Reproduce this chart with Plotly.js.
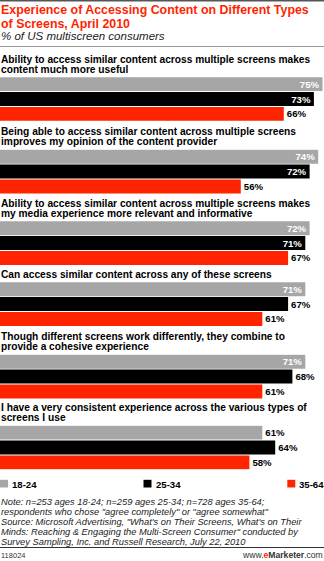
<!DOCTYPE html>
<html>
<head>
<meta charset="utf-8">
<script src="https://cdn.plot.ly/plotly-3.0.1.min.js"></script>
<style>
html,body{margin:0;padding:0;background:#fff;}
#chart{width:324px;height:561px;}
</style>
</head>
<body>
<div id="chart"></div>
<script>
// ---- data ----
const questionLines = [
  ["Ability to access similar content across multiple screens makes", "content much more useful"],
  ["Being able to access similar content across multiple screens", "improves my opinion of the content provider"],
  ["Ability to access similar content across multiple screens makes", "my media experience more relevant and informative"],
  ["Can access similar content across any of these screens"],
  ["Though different screens work differently, they combine to", "provide a cohesive experience"],
  ["I have a very consistent experience across the various types of", "screens I use"]
];
const ageGroups = ["18-24", "25-34", "35-64"];
const age18to24 = [75, 74, 72, 71, 71, 61];
const age25to34 = [73, 72, 71, 67, 68, 64];
const age35to64 = [66, 56, 67, 61, 61, 58];

const titleLines = ["Experience of Accessing Content on Different Types", "of Screens, April 2010"];
const subtitle = "% of US multiscreen consumers";
const noteLines = [
  "Note: n=253 ages 18-24; n=259 ages 25-34; n=728 ages 35-64;",
  "respondents who chose \"agree completely\" or \"agree somewhat\"",
  "Source: Microsoft Advertising, \"What's on Their Screens, What's on Their",
  "Minds: Reaching &amp; Engaging the Multi-Screen Consumer\" conducted by",
  "Survey Sampling, Inc. and Russell Research, July 22, 2010"
];
const chartId = "118024";

// ---- style / layout ----
const W = 324, H = 561;
const colors = ["#a6a6a6", "#000000", "#ff2400"];
const FONT = "Liberation Sans, Arial, sans-serif";
const groupTops = [76.7, 149.3, 220.8, 281.8, 354.3, 425.2];
const groupH = 44.6;
const py = p => 1 - p / H;
const pxx = p => p / W;

const series = [age18to24, age25to34, age35to64];
const traces = [];
const layout = {
  width: W, height: H,
  margin: {l: 0, r: 0, t: 0, b: 0, pad: 0},
  paper_bgcolor: "#fff", plot_bgcolor: "rgba(0,0,0,0)",
  showlegend: false,
  bargap: 0.06,
  xaxis: {range: [0, 75.35], visible: false, fixedrange: true, domain: [0, 1]},
  annotations: [],
  shapes: []
};

questionLines.forEach((lines, g) => {
  const vals = series.map(s => s[g]);
  const yName = g === 0 ? "y" : "y" + (g + 1);
  const axName = g === 0 ? "yaxis" : "yaxis" + (g + 1);
  traces.push({
    type: "bar", orientation: "h",
    y: ageGroups, x: vals,
    xaxis: "x", yaxis: yName,
    marker: {color: colors, line: {width: 0}},
    text: vals.map(v => "<b>" + v + "%</b>"),
    textposition: vals.map(v => v >= 70 ? "inside" : "outside"),
    insidetextanchor: "end",
    insidetextfont: {family: FONT, size: 9.6, color: "#ffffff"},
    outsidetextfont: {family: FONT, size: 9.6, color: "#000000"},
    constraintext: "none",
    cliponaxis: false,
    hoverinfo: "skip"
  });
  layout[axName] = {
    domain: [py(groupTops[g] + groupH), py(groupTops[g])],
    type: "category", range: [2.5, -0.5],
    visible: false, fixedrange: true, anchor: "x"
  };
  const n = lines.length;
  lines.forEach((t, i) => {
    const c = groupTops[g] - 7.4 - (n - 1 - i) * 10.2;
    layout.annotations.push({
      xref: "paper", yref: "paper", x: 0, y: py(c),
      xanchor: "left", yanchor: "middle", showarrow: false, borderpad: 0,
      text: "<b>" + t + "</b>",
      font: {family: FONT, size: 10.2, color: "#000"}
    });
  });
});

// title
titleLines.forEach((t, i) => {
  layout.annotations.push({
    xref: "paper", yref: "paper", x: 0, y: py(10 + i * 14),
    xanchor: "left", yanchor: "middle", showarrow: false, borderpad: 0,
    text: "<b>" + t + "</b>",
    font: {family: FONT, size: 12.4, color: "#ff2400"}
  });
});
layout.annotations.push({
  xref: "paper", yref: "paper", x: 0, y: py(36),
  xanchor: "left", yanchor: "middle", showarrow: false, borderpad: 0,
  text: "<i>" + subtitle + "</i>",
  font: {family: FONT, size: 11.5, color: "#222"}
});

// legend
const legX = [0, 143.5, 287.3];
ageGroups.forEach((a, i) => {
  layout.shapes.push({
    type: "rect", xref: "paper", yref: "paper",
    x0: pxx(legX[i]), x1: pxx(legX[i] + 8), y0: py(487.5), y1: py(479.8),
    fillcolor: colors[i], line: {width: 0}
  });
  layout.annotations.push({
    xref: "paper", yref: "paper", x: pxx(legX[i] + 11), y: py(484),
    xanchor: "left", yanchor: "middle", showarrow: false, borderpad: 0,
    text: "<b>" + a + "</b>",
    font: {family: FONT, size: 9.6, color: "#000"}
  });
});

// notes
noteLines.forEach((t, i) => {
  layout.annotations.push({
    xref: "paper", yref: "paper", x: 0, y: py(502 + i * 9.9),
    xanchor: "left", yanchor: "middle", showarrow: false, borderpad: 0,
    text: "<i>" + t + "</i>",
    font: {family: FONT, size: 9.3, color: "#222"}
  });
});

// footer
layout.annotations.push({
  xref: "paper", yref: "paper", x: 0, y: py(555),
  xanchor: "left", yanchor: "middle", showarrow: false, borderpad: 0,
  text: chartId, font: {family: FONT, size: 7.5, color: "#333"}
});
layout.annotations.push({
  xref: "paper", yref: "paper", x: 1, y: py(555),
  xanchor: "right", yanchor: "middle", showarrow: false, borderpad: 0,
  text: "www.<b><span style=\"color:#ff2400\">e</span>Marketer</b>.com",
  font: {family: FONT, size: 8.6, color: "#333"}
});

// rules
layout.shapes.push(
  {type: "line", xref: "paper", yref: "paper", x0: 0, x1: 1, y0: py(0.8), y1: py(0.8), line: {color: "#555", width: 1.5}},
  {type: "line", xref: "paper", yref: "paper", x0: 0, x1: 1, y0: py(46.5), y1: py(46.5), line: {color: "#999", width: 1}},
  {type: "line", xref: "paper", yref: "paper", x0: 0, x1: 1, y0: py(547.5), y1: py(547.5), line: {color: "#333", width: 1}}
);

Plotly.newPlot("chart", traces, layout, {displayModeBar: false, staticPlot: true});
</script>
</body>
</html>
